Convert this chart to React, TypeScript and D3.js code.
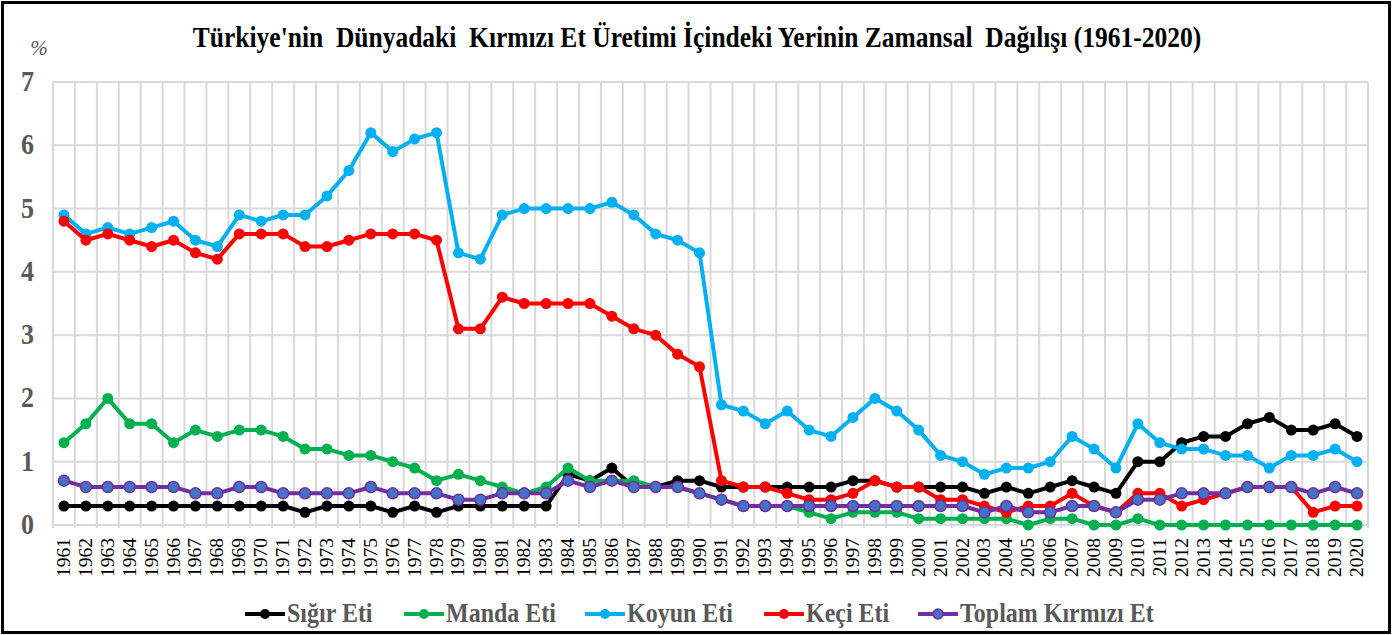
import React, { useEffect, useRef } from "react";
import * as d3 from "d3";

// Chart data (percent share of world production)
const years = [
  "1961", "1962", "1963", "1964", "1965", "1966", "1967", "1968", "1969", "1970",
  "1971", "1972", "1973", "1974", "1975", "1976", "1977", "1978", "1979", "1980",
  "1981", "1982", "1983", "1984", "1985", "1986", "1987", "1988", "1989", "1990",
  "1991", "1992", "1993", "1994", "1995", "1996", "1997", "1998", "1999", "2000",
  "2001", "2002", "2003", "2004", "2005", "2006", "2007", "2008", "2009", "2010",
  "2011", "2012", "2013", "2014", "2015", "2016", "2017", "2018", "2019", "2020",
];

const sigirEti = [
  0.3, 0.3, 0.3, 0.3, 0.3, 0.3, 0.3, 0.3, 0.3, 0.3,
  0.3, 0.2, 0.3, 0.3, 0.3, 0.2, 0.3, 0.2, 0.3, 0.3,
  0.3, 0.3, 0.3, 0.8, 0.7, 0.9, 0.6, 0.6, 0.7, 0.7,
  0.6, 0.6, 0.6, 0.6, 0.6, 0.6, 0.7, 0.7, 0.6, 0.6,
  0.6, 0.6, 0.5, 0.6, 0.5, 0.6, 0.7, 0.6, 0.5, 1.0,
  1.0, 1.3, 1.4, 1.4, 1.6, 1.7, 1.5, 1.5, 1.6, 1.4,
];

const mandaEti = [
  1.3, 1.6, 2.0, 1.6, 1.6, 1.3, 1.5, 1.4, 1.5, 1.5,
  1.4, 1.2, 1.2, 1.1, 1.1, 1.0, 0.9, 0.7, 0.8, 0.7,
  0.6, 0.5, 0.6, 0.9, 0.7, 0.7, 0.7, 0.6, 0.6, 0.5,
  0.4, 0.3, 0.3, 0.3, 0.2, 0.1, 0.2, 0.2, 0.2, 0.1,
  0.1, 0.1, 0.1, 0.1, 0.0, 0.1, 0.1, 0.0, 0.0, 0.1,
  0.0, 0.0, 0.0, 0.0, 0.0, 0.0, 0.0, 0.0, 0.0, 0.0,
];

const koyunEti = [
  4.9, 4.6, 4.7, 4.6, 4.7, 4.8, 4.5, 4.4, 4.9, 4.8,
  4.9, 4.9, 5.2, 5.6, 6.2, 5.9, 6.1, 6.2, 4.3, 4.2,
  4.9, 5.0, 5.0, 5.0, 5.0, 5.1, 4.9, 4.6, 4.5, 4.3,
  1.9, 1.8, 1.6, 1.8, 1.5, 1.4, 1.7, 2.0, 1.8, 1.5,
  1.1, 1.0, 0.8, 0.9, 0.9, 1.0, 1.4, 1.2, 0.9, 1.6,
  1.3, 1.2, 1.2, 1.1, 1.1, 0.9, 1.1, 1.1, 1.2, 1.0,
];

const keciEti = [
  4.8, 4.5, 4.6, 4.5, 4.4, 4.5, 4.3, 4.2, 4.6, 4.6,
  4.6, 4.4, 4.4, 4.5, 4.6, 4.6, 4.6, 4.5, 3.1, 3.1,
  3.6, 3.5, 3.5, 3.5, 3.5, 3.3, 3.1, 3.0, 2.7, 2.5,
  0.7, 0.6, 0.6, 0.5, 0.4, 0.4, 0.5, 0.7, 0.6, 0.6,
  0.4, 0.4, 0.3, 0.2, 0.3, 0.3, 0.5, 0.3, 0.2, 0.5,
  0.5, 0.3, 0.4, 0.5, 0.6, 0.6, 0.6, 0.2, 0.3, 0.3,
];

const toplamKirmiziEt = [
  0.7, 0.6, 0.6, 0.6, 0.6, 0.6, 0.5, 0.5, 0.6, 0.6,
  0.5, 0.5, 0.5, 0.5, 0.6, 0.5, 0.5, 0.5, 0.4, 0.4,
  0.5, 0.5, 0.5, 0.7, 0.6, 0.7, 0.6, 0.6, 0.6, 0.5,
  0.4, 0.3, 0.3, 0.3, 0.3, 0.3, 0.3, 0.3, 0.3, 0.3,
  0.3, 0.3, 0.2, 0.3, 0.2, 0.2, 0.3, 0.3, 0.2, 0.4,
  0.4, 0.5, 0.5, 0.5, 0.6, 0.6, 0.6, 0.5, 0.6, 0.5,
];

const seriesNames = ["Sığır Eti", "Manda Eti", "Koyun Eti", "Keçi Eti", "Toplam Kırmızı Et"];
const seriesValues = [sigirEti, mandaEti, koyunEti, keciEti, toplamKirmiziEt];
const yTicks = [0, 1, 2, 3, 4, 5, 6, 7];

const title = "Türkiye'nin  Dünyadaki  Kırmızı Et Üretimi İçindeki Yerinin Zamansal  Dağılışı (1961-2020)";

// Layout
const width = 1392;
const height = 635;
const plotLeft = 53;
const plotRight = 1368;
const plotTop = 82;
const plotBottom = 525;
const font = "'Liberation Serif', 'Times New Roman', serif";

const lineColors = ["#000000", "#00b050", "#00b0f0", "#ff0000", "#7030a0"];
const markerFill = ["#000000", "#00b050", "#00b0f0", "#ff0000", "#4472c4"];
const legendX = [245, 404, 585, 764, 918];

const App: React.FC = () => {
  const svgRef = useRef<SVGSVGElement>(null);

  useEffect(() => {
    if (!svgRef.current) return;
    const svg = d3.select(svgRef.current);
    svg.selectAll("*").remove();

    const x = d3.scaleBand().domain(years).range([plotLeft, plotRight]);
    const y = d3.scaleLinear().domain([0, 7]).range([plotBottom, plotTop]);
    const cx = (yr: string) => (x(yr) || 0) + x.bandwidth() / 2;

    svg.append("rect")
      .attr("width", width).attr("height", height).attr("fill", "#fff");

    // outer frame
    svg.append("rect")
      .attr("x", 2.5).attr("y", 2.5)
      .attr("width", width - 5).attr("height", height - 5)
      .attr("fill", "none").attr("stroke", "#000").attr("stroke-width", 3);

    // title
    svg.append("text")
      .attr("transform", `translate(697,47) scale(1,1.12)`)
      .attr("text-anchor", "middle")
      .attr("font-family", font).attr("font-weight", "bold")
      .attr("font-size", 25.5).attr("fill", "#000")
      .style("white-space", "pre")
      .text(title);

    // "%" unit label
    svg.append("text")
      .attr("x", 39).attr("y", 55)
      .attr("text-anchor", "middle")
      .attr("font-family", font).attr("font-style", "italic")
      .attr("font-size", 21).attr("fill", "#595959")
      .text("%");

    // horizontal grid
    svg.append("g")
      .selectAll("line")
      .data(yTicks)
      .join("line")
      .attr("x1", plotLeft).attr("x2", plotRight)
      .attr("y1", (d) => y(d)).attr("y2", (d) => y(d))
      .attr("stroke", "#d9d9d9").attr("stroke-width", 2);

    // vertical grid at band boundaries
    const bounds = years.map((yr) => x(yr) || 0).concat([plotRight]);
    svg.append("g")
      .selectAll("line")
      .data(bounds)
      .join("line")
      .attr("x1", (d) => d).attr("x2", (d) => d)
      .attr("y1", plotTop).attr("y2", plotBottom + 3)
      .attr("stroke", "#d9d9d9").attr("stroke-width", 2);

    // y labels
    svg.append("g")
      .selectAll("text")
      .data(yTicks)
      .join("text")
      .attr("transform", (d) => `translate(34,${y(d) + 9}) scale(1,1.1)`)
      .attr("text-anchor", "end")
      .attr("font-family", font).attr("font-weight", "bold")
      .attr("font-size", 26).attr("fill", "#595959")
      .text((d) => d);

    // x labels, rotated
    svg.append("g")
      .selectAll("text")
      .data(years)
      .join("text")
      .attr("transform", (d) => `translate(${cx(d) + 6},538) rotate(-90)`)
      .attr("text-anchor", "end")
      .attr("font-family", font)
      .attr("font-size", 19.5).attr("fill", "#000")
      .text((d) => d);

    // lines + markers
    const line = d3.line<number>()
      .x((_, i) => cx(years[i]))
      .y((d) => y(d));

    seriesValues.forEach((vals, si) => {
      const g = svg.append("g");
      g.append("path")
        .attr("d", line(vals) || "")
        .attr("fill", "none")
        .attr("stroke", lineColors[si])
        .attr("stroke-width", 4)
        .attr("stroke-linejoin", "round");
      g.selectAll("circle")
        .data(vals)
        .join("circle")
        .attr("cx", (_, i) => cx(years[i]))
        .attr("cy", (d) => y(d))
        .attr("r", 5.5)
        .attr("fill", markerFill[si])
        .attr("stroke", lineColors[si])
        .attr("stroke-width", si === 4 ? 1.5 : 0);
    });

    // legend
    const legend = svg.append("g");
    seriesNames.forEach((name, si) => {
      const lx = legendX[si];
      const ly = 614;
      legend.append("line")
        .attr("x1", lx).attr("x2", lx + 40)
        .attr("y1", ly).attr("y2", ly)
        .attr("stroke", lineColors[si]).attr("stroke-width", 4);
      legend.append("circle")
        .attr("cx", lx + 20).attr("cy", ly).attr("r", 5)
        .attr("fill", markerFill[si])
        .attr("stroke", lineColors[si])
        .attr("stroke-width", si === 4 ? 1.5 : 0);
      legend.append("text")
        .attr("transform", `translate(${lx + 42},${ly + 8}) scale(1,1.12)`)
        .attr("font-family", font).attr("font-weight", "bold")
        .attr("font-size", 24).attr("fill", "#595959")
        .text(name);
    });
  }, []);

  return (
    <svg
      ref={svgRef}
      width={width}
      height={height}
      style={{ position: "absolute", left: 0, top: 0, display: "block" }}
    />
  );
};

export default App;
